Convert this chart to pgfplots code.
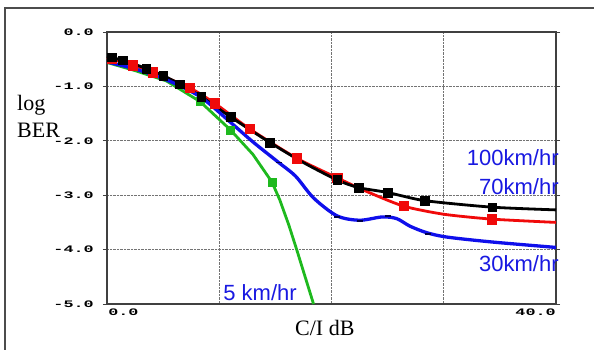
\documentclass[border=0pt]{standalone}
\usepackage{fontspec}
\setmainfont{Liberation Serif}
\setsansfont{Liberation Sans}
\setmonofont{Liberation Mono}
\usepackage{graphicx}
\usepackage{pgfplots}
\pgfplotsset{compat=1.18}
\definecolor{lblue}{RGB}{25,25,225}
\definecolor{cblue}{RGB}{15,15,235}
\definecolor{cred}{RGB}{240,10,10}
\definecolor{cgreen}{RGB}{30,185,30}
\newcommand{\tl}[1]{\scalebox{1.05}[0.62]{\fontsize{16}{16}\selectfont\ttfamily\bfseries #1}}
\begin{document}
\begin{tikzpicture}
\useasboundingbox (-107pt,-45pt) rectangle (487pt,304pt);
\draw[line width=1.5pt, black!70] (-102pt,-50pt) -- (-102pt,296pt) -- (490pt,296pt);
\begin{axis}[
  at={(0pt,0pt)}, anchor=south west,
  scale only axis, width=449pt, height=272pt,
  xmin=0, xmax=40, ymin=-5, ymax=0,
  axis line style={line width=1.3pt, black!75},
  xtick={0,10,20,30,40}, xticklabels={},
  ytick={-5,-4,-3,-2,-1,0},
  yticklabels={\tl{-5.0},\tl{-4.0},\tl{-3.0},\tl{-2.0},\tl{-1.0},\tl{0.0}},
  yticklabel style={anchor=east, inner sep=0pt, xshift=-9pt},
  grid=major,
  major grid style={densely dotted, black!55, line width=0.8pt},
  tick align=outside, major tick length=4pt,
  ytick style={line width=1pt, black!75},
  xtick style={draw=none},
  clip=false,
]
% 5 km/hr (green)
\addplot[cgreen, line width=2.8pt, mark=none] coordinates {
(0,-0.56) (2.5,-0.71) (5.3,-0.90) (8.3,-1.28) (11,-1.80) (13,-2.25) (14.7,-2.76) (15.4,-3.09) (16.2,-3.55) (16.9,-4.0) (18.4,-5.0)};
\addplot[cgreen, only marks, mark=square*, mark size=4pt] coordinates {
(8.3,-1.28) (11,-1.80) (14.7,-2.76)};
% 70 km/hr (red)
\addplot[cred, line width=2.8pt, smooth, tension=0.4, mark=none] coordinates {
(0,-0.47) (2.3,-0.61) (4.1,-0.74) (7.4,-1.03) (9.6,-1.31) (12.7,-1.78) (16.9,-2.32) (20.5,-2.68) (23,-2.92) (26.4,-3.20) (30,-3.35) (34.3,-3.44) (40,-3.50)};
\addplot[cred, only marks, mark=square*, mark size=4.6pt] coordinates {
(0.4,-0.48) (2.3,-0.61) (4.1,-0.74) (7.4,-1.03) (9.6,-1.31) (12.7,-1.78) (16.9,-2.32) (20.5,-2.68) (26.4,-3.20) (34.3,-3.44)};
% 100 km/hr (black)
\addplot[black, line width=2.8pt, smooth, tension=0.4, mark=none] coordinates {
(0,-0.45) (1.4,-0.52) (3.5,-0.67) (5,-0.80) (6.5,-0.96) (8.4,-1.19) (11,-1.56) (14.5,-2.03) (17.5,-2.40) (20.5,-2.72) (22.4,-2.86) (25,-2.95) (28.3,-3.10) (34.3,-3.22) (40,-3.27)};
\addplot[black, only marks, mark=square*, mark size=4.3pt] coordinates {
(0.4,-0.46) (1.4,-0.52) (3.5,-0.67) (5,-0.80) (6.5,-0.96) (8.4,-1.19) (11,-1.56) (14.5,-2.03) (20.5,-2.72) (22.4,-2.86) (25,-2.95) (28.3,-3.10) (34.3,-3.22)};
% 30 km/hr (blue)
\addplot[cblue, line width=3.3pt, smooth, tension=0.5, mark=none] coordinates {
(0,-0.55) (2.5,-0.68) (5.3,-0.88) (8.3,-1.19) (11,-1.66) (13,-2.02) (15.3,-2.40) (16.8,-2.65) (18.4,-3.05) (20.5,-3.38) (22.5,-3.46) (24.5,-3.40) (25.8,-3.43) (27,-3.57) (28.5,-3.69) (30.3,-3.77) (34.3,-3.86) (40,-3.96)};
\addplot[black!70!blue, only marks, mark=-, mark size=3pt, mark options={line width=1.5pt}] coordinates {
(15.3,-2.40) (20.5,-3.40) (22.5,-3.47) (25,-3.38) (28.6,-3.71)};
% labels
\node[anchor=base east, inner sep=0pt, text=lblue, font=\sffamily\fontsize{22}{22}\selectfont] at (axis cs:40.25,-2.445) {100km/hr};
\node[anchor=base east, inner sep=0pt, text=lblue, font=\sffamily\fontsize{22}{22}\selectfont] at (axis cs:40.25,-2.99) {70km/hr};
\node[anchor=base east, inner sep=0pt, text=lblue, font=\sffamily\fontsize{22}{22}\selectfont] at (axis cs:40.25,-4.41) {30km/hr};
\node[anchor=base west, inner sep=0pt, text=lblue, font=\sffamily\fontsize{22}{22}\selectfont] at (axis cs:10.35,-4.93) {5 km/hr};
\node[anchor=north west, inner sep=0pt] at (axis cs:0.1,-5.08) {\tl{0.0}};
\node[anchor=north east, inner sep=0pt] at (axis cs:40,-5.08) {\tl{40.0}};
\end{axis}
\node[anchor=base west, inner sep=0pt, font=\fontsize{22}{22}\selectfont] at (-90pt,194pt) {log};
\node[anchor=base west, inner sep=0pt, font=\fontsize{22}{22}\selectfont] at (-90pt,167pt) {BER};
\node[anchor=base west, inner sep=0pt, font=\fontsize{22}{22}\selectfont] at (188pt,-31pt) {C/I dB};
\end{tikzpicture}
\end{document}
